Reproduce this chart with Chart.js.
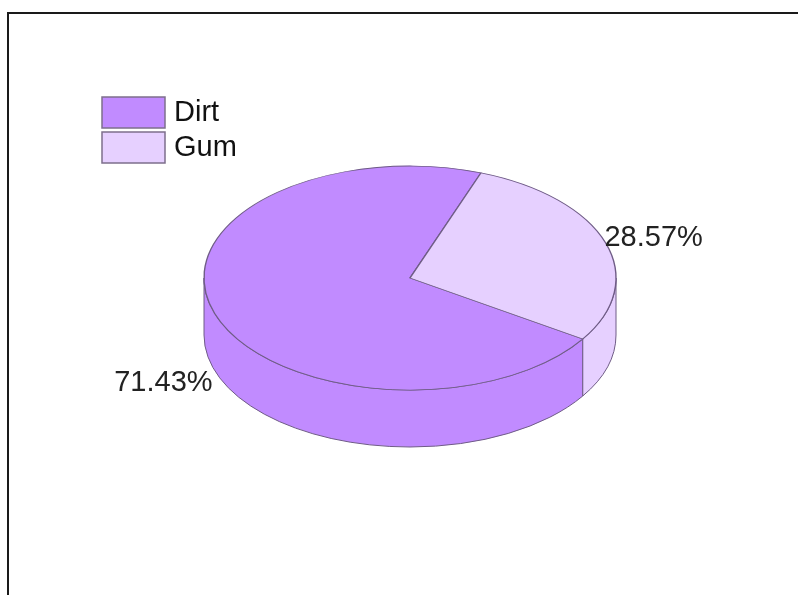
<!DOCTYPE html>
<html>
<head>
<meta charset="utf-8">
<script src="https://cdn.jsdelivr.net/npm/chart.js@4.4.0/dist/chart.umd.min.js"></script>
<style>
  body { margin: 0; background: #fff; }
  #wrap { position: relative; width: 798px; height: 595px; }
  #frame { position: absolute; left: 7px; top: 12px; right: -5px; bottom: -5px;
           border-left: 2px solid #1a1a1a; border-top: 2px solid #1a1a1a; pointer-events: none; }
</style>
</head>
<body>
<div id="wrap">
  <canvas id="chart1" width="798" height="595"></canvas>
  <div id="frame"></div>
</div>
<script>
var labels = ['Dirt', 'Gum'];
var valors = [71.43, 28.57];
var colors = ['#c18bff', '#e6d0ff'];

var rx = 206;
var ry = 112;
var depth = 57;
var lineColor = '#6f5c86';

// dibuixa els costats del pastis (3D) i aplana la part de dalt
var pie3d = {
  id: 'pie3d',
  beforeDatasetsDraw: function(chart) {
    var ctx = chart.ctx;
    var arcs = chart.getDatasetMeta(0).data;
    var cx = arcs[0].x, cy = arcs[0].y;
    ctx.save();
    ctx.lineWidth = 1;
    ctx.strokeStyle = lineColor;
    for (var i = 0; i < arcs.length; i++) {
      var s = arcs[i].startAngle, e = arcs[i].endAngle;
      for (var k = -1; k < 3; k++) {
        var a1 = Math.max(s, 2 * Math.PI * k);
        var a2 = Math.min(e, 2 * Math.PI * k + Math.PI);
        if (a2 <= a1) continue;
        ctx.beginPath();
        ctx.ellipse(cx, cy, rx, ry, 0, a1, a2);
        ctx.lineTo(cx + rx * Math.cos(a2), cy + depth + ry * Math.sin(a2));
        ctx.ellipse(cx, cy + depth, rx, ry, 0, a2, a1, true);
        ctx.closePath();
        ctx.fillStyle = colors[i];
        ctx.fill();
        ctx.stroke();
      }
    }
    ctx.restore();
    ctx.save();
    ctx.translate(cx, cy);
    ctx.scale(1, ry / rx);
    ctx.translate(-cx, -cy);
  },
  afterDatasetsDraw: function(chart) {
    var ctx = chart.ctx;
    ctx.restore();
    var arcs = chart.getDatasetMeta(0).data;
    var cx = arcs[0].x, cy = arcs[0].y;
    var total = valors.reduce(function(a, b) { return a + b; }, 0);

    ctx.save();
    ctx.font = '29px "Liberation Sans", Arial, sans-serif';
    ctx.fillStyle = '#222';
    ctx.textBaseline = 'middle';
    for (var i = 0; i < arcs.length; i++) {
      var mid = (arcs[i].startAngle + arcs[i].endAngle) / 2;
      var px = cx + rx * Math.cos(mid);
      var py = cy + ry * Math.sin(mid);
      var txt = (valors[i] / total * 100).toFixed(2) + '%';
      if (Math.cos(mid) >= 0) {
        ctx.textAlign = 'left';
        ctx.fillText(txt, px - 1, py - 5);
      } else {
        ctx.textAlign = 'right';
        ctx.fillText(txt, px - 2, py + 70);
      }
    }

    // llegenda
    for (var j = 0; j < labels.length; j++) {
      var by = 97 + j * 35;
      ctx.fillStyle = colors[j];
      ctx.fillRect(102, by, 63, 31);
      ctx.lineWidth = 1.5;
      ctx.strokeStyle = '#7d6f8c';
      ctx.strokeRect(102, by, 63, 31);
      ctx.fillStyle = '#111';
      ctx.textAlign = 'left';
      ctx.fillText(labels[j], 174, by + 16);
    }
    ctx.restore();
  }
};

const chartPastis = document.getElementById('chart1');

new Chart(chartPastis, {
  type: 'pie',
  data: {
    labels: labels,
    datasets: [{
      data: valors,
      backgroundColor: colors,
      borderColor: lineColor,
      borderWidth: 1.4
    }]
  },
  options: {
    responsive: false,
    animation: false,
    rotation: 123,
    radius: rx,
    layout: { padding: { left: 22, right: 0, top: 0, bottom: 39 } },
    plugins: {
      legend: { display: false },
      tooltip: { enabled: false }
    }
  },
  plugins: [pie3d]
});
</script>
</body>
</html>
